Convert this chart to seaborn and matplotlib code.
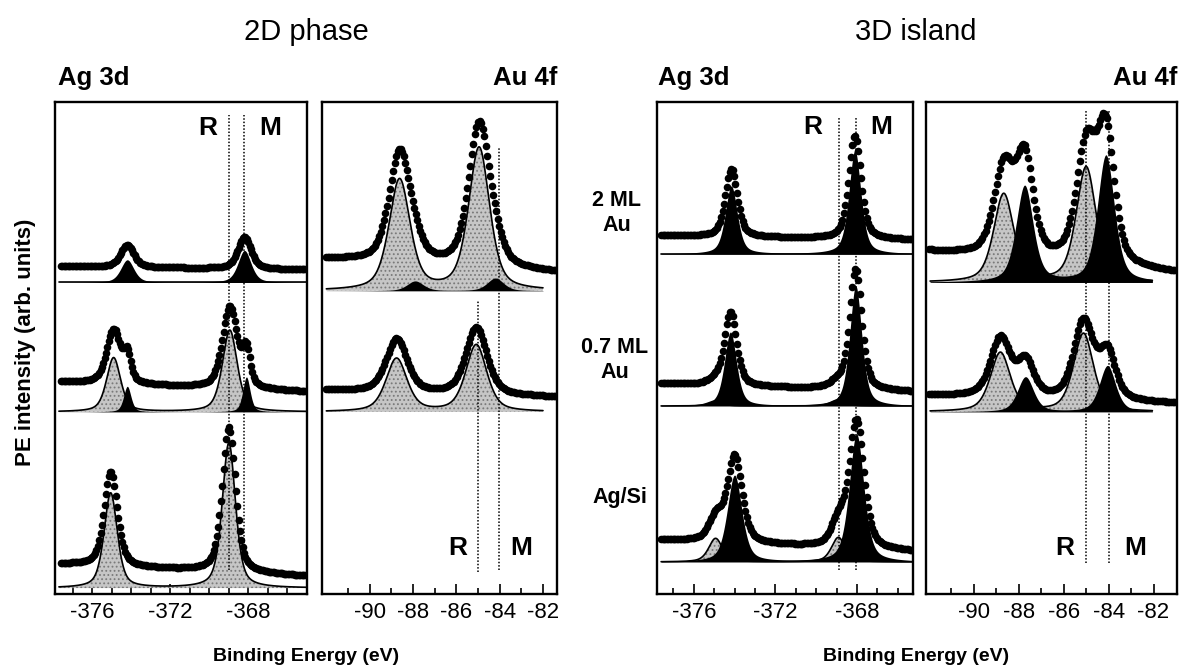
import numpy as np
import matplotlib
matplotlib.use("Agg")
import matplotlib.pyplot as plt
import seaborn as sns

sns.set_style("white")
plt.rcParams["font.family"] = ["Liberation Sans", "DejaVu Sans"]
plt.rcParams["axes.unicode_minus"] = False
plt.rcParams["hatch.linewidth"] = 0.8
plt.rcParams["text.color"] = "k"
plt.rcParams["xtick.color"] = "k"
plt.rcParams["xtick.labelcolor"] = "k"

# ---------------- data ----------------
# intensities in arbitrary units (panel height = 100), energies in eV
# kind: "R" = reacted component (grey), "M" = metallic component (black)

# 2D phase, Ag 3d  (rows: 2 ML Au, 0.7 ML Au, Ag/Si)
ag2d_base = [63.3, 37.0, 1.2]
ag2d_bg = [[3.3, 2.6], [6.1, 4.1], [4.9, 2.4]]
ag2d_pos = [[-374.2, -368.2], [-374.9, -374.2, -368.95, -368.1], [-375.05, -369.0]]
ag2d_amp = [[4.6, 6.5], [11.0, 5.2, 16.6, 7.1], [19.3, 29.5]]
ag2d_fwhm = [[0.8, 0.8], [0.85, 0.45, 0.9, 0.45], [0.8, 0.8]]
ag2d_kind = [["M", "M"], ["R", "M", "R", "M"], ["R", "R"]]

# 2D phase, Au 4f  (rows: 2 ML Au, 0.7 ML Au)
au2d_base = [61.6, 37.0]
au2d_bg = [[6.5, 3.7], [4.4, 3.0]]
au2d_pos = [[-88.62, -87.9, -84.95, -84.2], [-88.76, -85.08]]
au2d_amp = [[22.5, 2.0, 29.0, 2.6], [10.8, 13.6]]
au2d_fwhm = [[1.15, 0.9, 1.15, 0.9], [1.15, 1.15]]
au2d_kind = [["R", "M", "R", "M"], ["R", "R"]]

# 3D island, Ag 3d
ag3d_base = [69.1, 38.2, 6.5]
ag3d_bg = [[3.7, 2.85], [4.5, 2.9], [4.5, 2.1]]
ag3d_pos = [[-374.16, -368.1], [-374.95, -374.2, -368.95, -368.06],
            [-374.93, -374.0, -368.91, -368.02]]
ag3d_amp = [[13.8, 21.0], [1.0, 15.0, 1.2, 24.4], [4.8, 17.6, 5.0, 26.0]]
ag3d_fwhm = [[0.7, 0.7], [0.8, 0.7, 0.8, 0.7], [0.8, 0.85, 0.8, 0.85]]
ag3d_kind = [["M", "M"], ["R", "M", "R", "M"], ["R", "M", "R", "M"]]

# 3D island, Au 4f
au3d_base = [63.3, 37.0]
au3d_bg = [[6.3, 1.9], [3.4, 1.7]]
au3d_pos = [[-88.67, -87.74, -85.0, -84.12], [-88.82, -87.7, -85.12, -84.05]]
au3d_amp = [[17.9, 19.6, 23.4, 25.8], [12.0, 7.1, 15.9, 9.4]]
au3d_fwhm = [[1.05, 0.9, 1.05, 0.9], [1.05, 0.85, 1.05, 0.85]]
au3d_kind = [["R", "M", "R", "M"], ["R", "M", "R", "M"]]

# R / M reference energies
ag2d_ref = [-369.0, -368.2]
au2d_ref = [-85.0, -84.05]
ag3d_ref = [-368.9, -368.05]
au3d_ref = [-85.0, -84.0]

ag_major = [-376, -372, -368]
au_major = [-90, -88, -86, -84, -82]


def pv(x, c, h, w, eta=0.5):
    d = (x - c) / w
    return h * (eta / (1 + 4 * d ** 2) + (1 - eta) * np.exp(-4 * np.log(2) * d ** 2))


def comp_sum(x, pos, amp, fwhm, kind, which):
    y = np.zeros_like(x)
    for c, h, w, k in zip(pos, amp, fwhm, kind):
        if which is None or k == which:
            y += pv(x, c, h, w)
    return y


def draw_spectra(ax, base, bg, pos, amp, fwhm, kind, dot_rng, line_rng):
    for i in range(len(base)):
        xl = np.arange(line_rng[0], line_rng[1] + 1e-9, 0.02)
        grey = comp_sum(xl, pos[i], amp[i], fwhm[i], kind[i], "R")
        black = comp_sum(xl, pos[i], amp[i], fwhm[i], kind[i], "M")
        ax.fill_between(xl, base[i], base[i] + grey, facecolor="#c6c6c6",
                        edgecolor="#7a7a7a", hatch="....", linewidth=0, zorder=2)
        ax.fill_between(xl, base[i], base[i] + black, color="k", linewidth=0, zorder=3)
        sns.lineplot(x=xl, y=base[i] + grey, ax=ax, color="k", linewidth=1.2,
                     estimator=None, sort=False, zorder=4)
        xd = np.arange(dot_rng[0], dot_rng[1] + 1e-9, 0.07)
        frac = (xd - xd[0]) / (xd[-1] - xd[0])
        yd = base[i] + comp_sum(xd, pos[i], amp[i], fwhm[i], kind[i], None) \
            + bg[i][0] + (bg[i][1] - bg[i][0]) * frac
        sns.scatterplot(x=xd, y=yd, ax=ax, color="k", s=30, linewidth=0, zorder=5)


def style_axis(ax, xlim, major, minor):
    ax.set_xlim(*xlim)
    ax.set_ylim(0, 100)
    ax.set_yticks([])
    ax.set_xticks(major)
    ax.set_xticklabels([str(v) for v in major])
    ax.set_xticks(minor, minor=True)
    ax.tick_params(axis="x", which="major", direction="in", length=7.5, width=1.2,
                   labelsize=16, pad=6, bottom=True, color="k", labelcolor="k")
    ax.tick_params(axis="x", which="minor", direction="in", length=4.5, width=1.2,
                   bottom=True, color="k")
    ax.set_xlabel("")
    ax.set_ylabel("")
    for s in ax.spines.values():
        s.set_linewidth(1.7)
        s.set_color("k")


fig = plt.figure(figsize=(11.83, 6.65), dpi=100)
ax1 = fig.add_axes([0.0465, 0.1068, 0.2130, 0.740])
ax2 = fig.add_axes([0.2722, 0.1068, 0.1987, 0.740])
ax3 = fig.add_axes([0.5554, 0.1068, 0.2164, 0.740])
ax4 = fig.add_axes([0.7828, 0.1068, 0.2122, 0.740])

draw_spectra(ax1, ag2d_base, ag2d_bg, ag2d_pos, ag2d_amp, ag2d_fwhm, ag2d_kind,
             (-377.6, -365.0), (-377.7, -365.0))
draw_spectra(ax2, au2d_base, au2d_bg, au2d_pos, au2d_amp, au2d_fwhm, au2d_kind,
             (-92.0, -81.35), (-92.0, -82.0))
draw_spectra(ax3, ag3d_base, ag3d_bg, ag3d_pos, ag3d_amp, ag3d_fwhm, ag3d_kind,
             (-377.6, -365.3), (-377.6, -365.3))
draw_spectra(ax4, au3d_base, au3d_bg, au3d_pos, au3d_amp, au3d_fwhm, au3d_kind,
             (-92.0, -81.0), (-91.95, -82.05))

style_axis(ax1, (-377.9, -365.0), ag_major, list(range(-377, -365)))
style_axis(ax2, (-92.2, -81.35), au_major, [-91, -89, -87, -85, -83])
style_axis(ax3, (-377.8, -365.25), ag_major, list(range(-377, -365)))
style_axis(ax4, (-92.13, -80.95), au_major, [-91, -89, -87, -85, -83])

# dotted R / M reference lines
dot_kw = dict(colors="k", linestyles=(0, (1, 1.2)), linewidth=1.1, zorder=6)
ax1.vlines(ag2d_ref[0], 4.9, 97.4, **dot_kw)
ax1.vlines(ag2d_ref[1], 8.9, 97.4, **dot_kw)
ax2.vlines(au2d_ref[0], 4.5, 59.8, **dot_kw)
ax2.vlines(au2d_ref[1], 4.9, 90.7, **dot_kw)
ax3.vlines(ag3d_ref, 4.9, 97.0, **dot_kw)
ax4.vlines(au3d_ref, 6.3, 98.4, **dot_kw)

lab_kw = dict(fontsize=19, fontweight="bold", ha="center", va="center", zorder=7)
ax1.text(-370.07, 94.7, "R", **lab_kw)
ax1.text(-366.9, 94.7, "M", **lab_kw)
ax2.text(-85.93, 9.3, "R", **lab_kw)
ax2.text(-83.0, 9.3, "M", **lab_kw)
ax3.text(-370.16, 94.9, "R", **lab_kw)
ax3.text(-366.8, 94.9, "M", **lab_kw)
ax4.text(-85.96, 9.3, "R", **lab_kw)
ax4.text(-82.82, 9.3, "M", **lab_kw)

# panel headers
hd = dict(fontsize=18.5, fontweight="bold", va="baseline")
fig.text(58 / 1183, 1 - 85 / 665, "Ag 3d", ha="left", **hd)
fig.text(557 / 1183, 1 - 85 / 665, "Au 4f", ha="right", **hd)
fig.text(658 / 1183, 1 - 85 / 665, "Ag 3d", ha="left", **hd)
fig.text(1177 / 1183, 1 - 85 / 665, "Au 4f", ha="right", **hd)

fig.text(306 / 1183, 1 - 40 / 665, "2D phase", ha="center", va="baseline", fontsize=21)
fig.text(916 / 1183, 1 - 40 / 665, "3D island", ha="center", va="baseline", fontsize=21)

smp = dict(fontsize=15.5, fontweight="bold", ha="center", va="center", linespacing=1.2)
fig.text(617 / 1183, 1 - 213 / 665, "2 ML\nAu", **smp)
fig.text(615 / 1183, 1 - 360 / 665, "0.7 ML\nAu", **smp)
fig.text(620 / 1183, 1 - 497 / 665, "Ag/Si", **smp)

fig.text(26 / 1183, 1 - 342 / 665, "PE intensity (arb. units)", rotation=90,
         ha="center", va="center", fontsize=16, fontweight="bold")
fig.text(306 / 1183, 1 - 661 / 665, "Binding Energy (eV)", ha="center",
         va="baseline", fontsize=14, fontweight="bold")
fig.text(916 / 1183, 1 - 661 / 665, "Binding Energy (eV)", ha="center",
         va="baseline", fontsize=14, fontweight="bold")

fig.savefig("out.png", dpi=100)
